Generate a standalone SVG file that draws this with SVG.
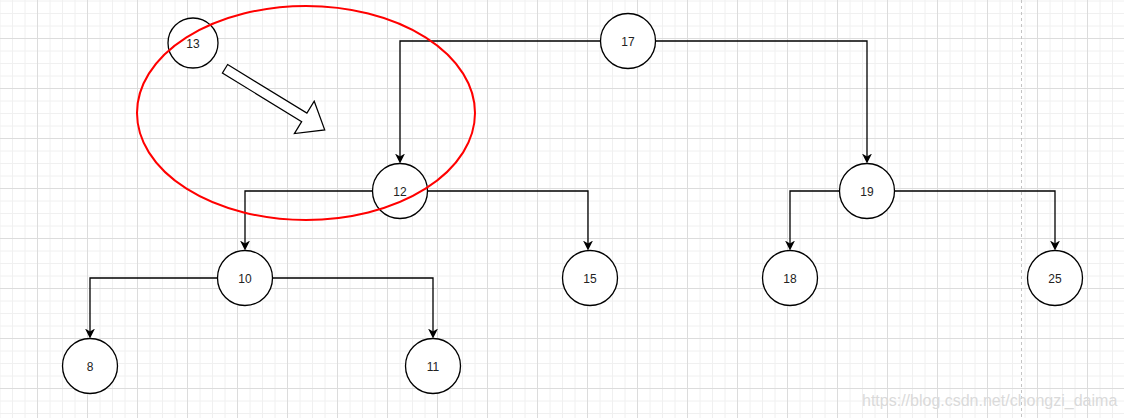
<svg xmlns="http://www.w3.org/2000/svg" width="1124" height="418" viewBox="0 0 1124 418">
  <style>
    .node circle { fill: #ffffff; stroke: #000000; stroke-width: 1.3; }
    .node text { font-family: "Liberation Sans", Arial, sans-serif; font-size: 12px; fill: #222222; text-anchor: middle; dominant-baseline: central; }
    .edge { fill: none; stroke: #000000; stroke-width: 1.3; marker-end: url(#arrow); }
  </style>
  <defs>
    <pattern id="grid" patternUnits="userSpaceOnUse" x="37" y="38" width="50" height="50">
      <path d="M13 0V50M25.5 0V50M38 0V50M0 13H50M0 25.5H50M0 38H50" stroke="#f0f0f0" stroke-width="1" fill="none"/>
      <path d="M0.5 0V50M0 0.5H50" stroke="#dcdcdc" stroke-width="1" fill="none"/>
    </pattern>
    <marker id="arrow" viewBox="0 0 10 10" markerWidth="10" markerHeight="10" markerUnits="userSpaceOnUse" refX="4" refY="5" orient="auto">
      <path d="M0,0 L10,5 L0,10 L3,5 Z" fill="#000000"/>
    </marker>
  </defs>
  <rect x="0" y="0" width="1124" height="418" fill="#ffffff"/>
  <rect x="0" y="0" width="1124" height="418" fill="url(#grid)"/>
  <line x1="1021.5" y1="0" x2="1021.5" y2="418" stroke="#c4c4c4" stroke-width="1" stroke-dasharray="3 3"/>

  <g id="connectors">
    <path class="edge" d="M600.5,41 H400 V157.5"/>
    <path class="edge" d="M655.5,41 H867 V157.5"/>
    <path class="edge" d="M372.5,191 H245 V244.5"/>
    <path class="edge" d="M427.5,191 H588 V244.5"/>
    <path class="edge" d="M839.5,191 H790 V244.5"/>
    <path class="edge" d="M894.5,191 H1055 V244.5"/>
    <path class="edge" d="M217.5,278 H90 V332.5"/>
    <path class="edge" d="M272.5,278 H433 V332.5"/>
  </g>

  <g id="node-13" class="node"><circle cx="193" cy="43" r="25"/><text x="193" y="44">13</text></g>
  <g id="node-17" class="node"><circle cx="628" cy="41" r="27.5"/><text x="628" y="42">17</text></g>
  <g id="node-12" class="node"><circle cx="400" cy="191" r="27.5"/><text x="400" y="192">12</text></g>
  <g id="node-19" class="node"><circle cx="867" cy="191" r="27.5"/><text x="867" y="192">19</text></g>
  <g id="node-10" class="node"><circle cx="245" cy="278" r="27.5"/><text x="245" y="279">10</text></g>
  <g id="node-15" class="node"><circle cx="590" cy="278" r="27.5"/><text x="590" y="279">15</text></g>
  <g id="node-18" class="node"><circle cx="790" cy="278" r="27.5"/><text x="790" y="279">18</text></g>
  <g id="node-25" class="node"><circle cx="1055" cy="278" r="27.5"/><text x="1055" y="279">25</text></g>
  <g id="node-8" class="node"><circle cx="90" cy="366" r="27.5"/><text x="90" y="367">8</text></g>
  <g id="node-11" class="node"><circle cx="433" cy="366" r="27.5"/><text x="433" y="367">11</text></g>

  <g id="block-arrow">
    <polygon transform="translate(225,68.8) rotate(31.5)" points="0,-5 93,-5 93,-19 117,0 93,19 93,5 0,5" fill="#ffffff" stroke="#000000" stroke-width="1.2" stroke-linejoin="miter"/>
  </g>
  <g id="highlight">
    <ellipse cx="306" cy="113" rx="169" ry="107" fill="none" stroke="#ff0000" stroke-width="2"/>
  </g>
  <text x="862" y="406" font-family="Liberation Sans, Arial, sans-serif" font-size="16" fill="#dadada">https://blog.csdn.net/chongzi_daima</text>
</svg>
